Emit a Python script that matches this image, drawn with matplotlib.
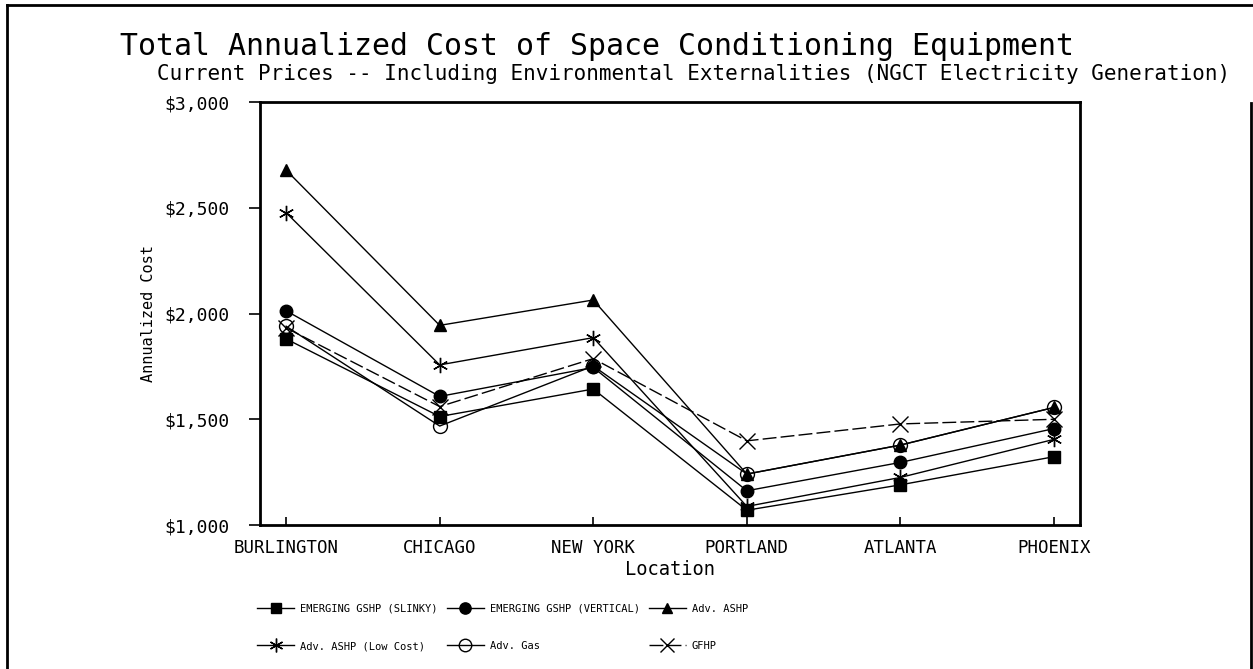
import numpy as np
import matplotlib
matplotlib.use("Agg")
import matplotlib.pyplot as plt
from matplotlib.lines import Line2D
from matplotlib.ticker import FuncFormatter

# data (annualized cost, $)
cities = ["BURLINGTON", "CHICAGO", "NEW YORK", "PORTLAND", "ATLANTA", "PHOENIX"]
slinky = [1880, 1513, 1643, 1070, 1190, 1323]
vertical = [2013, 1608, 1745, 1162, 1296, 1456]
adv_ashp = [2678, 1944, 2064, 1241, 1378, 1556]
ashp_low = [2477, 1757, 1886, 1088, 1225, 1405]
adv_gas = [1940, 1468, 1752, 1241, 1378, 1556]
gfhp = [1932, 1560, 1787, 1398, 1478, 1500]

y_ticks = [1000, 1500, 2000, 2500, 3000]

mono = "DejaVu Sans Mono"
plt.rcParams['font.family'] = mono

fig = plt.figure(figsize=(12.53, 6.69), dpi=100)
ax = fig.add_axes([0.2075, 0.2152, 0.6545, 0.6323])

x = np.arange(len(cities))
lw = 1.0
ax.plot(x, slinky, color="black", lw=lw, marker="s", ms=8, label="EMERGING GSHP (SLINKY)")
ax.plot(x, vertical, color="black", lw=lw, marker="o", ms=9, label="EMERGING GSHP (VERTICAL)")
ax.plot(x, adv_ashp, color="black", lw=lw, marker="^", ms=8, label="Adv. ASHP")
ax.plot(x, ashp_low, color="black", lw=lw, marker=(6, 2, 0), ms=11, mew=1.0,
        label="Adv. ASHP (Low Cost)")
ax.plot(x, adv_gas, color="black", lw=lw, marker="o", ms=10, mfc="none", mew=1.0,
        label="Adv. Gas")
ax.plot(x, gfhp, color="black", lw=lw, marker="x", ms=11, mew=1.0,
        dashes=(10, 3), label="GFHP")

ax.set_xlim(-0.17, 5.17)
ax.set_ylim(1000, 3000)
ax.set_xticks(x)
ax.set_xticklabels(cities, fontsize=12.5)
ax.set_yticks(y_ticks)
ax.yaxis.set_major_formatter(FuncFormatter(lambda v, p: "${:,.0f}".format(v)))
ax.tick_params(axis="y", direction="out", length=8, width=1.2, labelsize=13, pad=14)
ax.tick_params(axis="x", direction="in", length=6, width=1.2, pad=10)
for s in ax.spines.values():
    s.set_linewidth(2.0)

ax.set_xlabel("Location", fontsize=13.5, labelpad=2)
ax.set_ylabel("Annualized Cost", fontsize=11, labelpad=6)

fig.text(0.096, 0.93, "Total Annualized Cost of Space Conditioning Equipment",
         fontsize=21.5, ha="left", va="center")
fig.text(0.982, 0.889,
         "Current Prices -- Including Environmental Externalities (NGCT Electricity Generation)",
         fontsize=15, ha="right", va="center")

# legend: reorder so rows read left to right
h, l = ax.get_legend_handles_labels()
order = [0, 3, 1, 4, 2, 5]
leg = fig.legend([h[i] for i in order], [l[i] for i in order], ncol=3,
                 loc="center left", bbox_to_anchor=(0.198, 0.062), frameon=False,
                 fontsize=7.5, handlelength=3.5, labelspacing=2.6,
                 columnspacing=0.9, handletextpad=0.6)
for lh in leg.legend_handles:
    lh.set_markersize(lh.get_markersize() * 0.9)

# outer frame of the page
fig.add_artist(Line2D([0.0056, 0.0056], [0.0, 0.993], transform=fig.transFigure,
                      color="black", lw=2))
fig.add_artist(Line2D([0.0056, 1.0], [0.993, 0.993], transform=fig.transFigure,
                      color="black", lw=2))
fig.add_artist(Line2D([0.9985, 0.9985], [0.0, 0.846], transform=fig.transFigure,
                      color="black", lw=2))

fig.savefig("out.png", dpi=100)
